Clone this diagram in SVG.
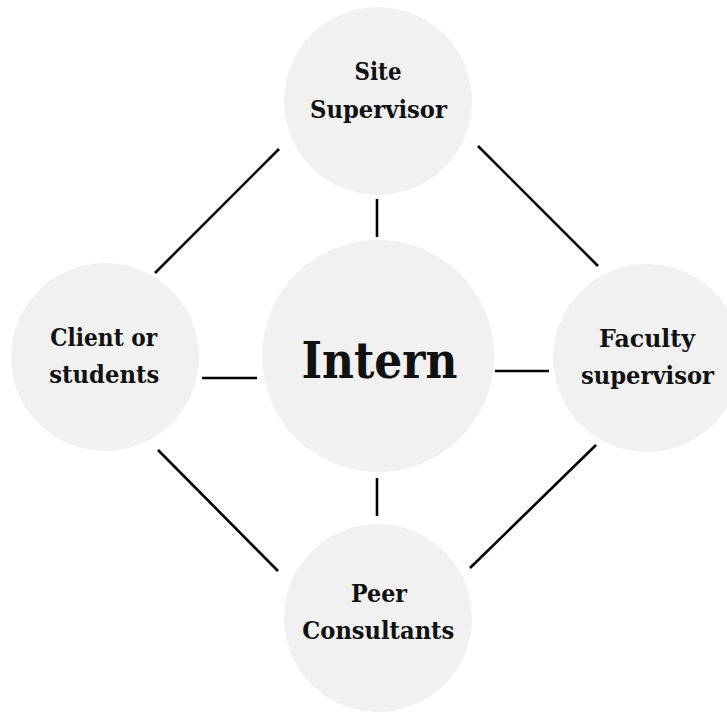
<svg xmlns="http://www.w3.org/2000/svg" width="727" height="715" viewBox="0 0 727 715">
<style>
.bg{fill:#ffffff}
.node circle{fill:#f1f1f1}
.node text{font-family:"DejaVu Serif","Liberation Serif",serif;font-weight:bold;font-size:24.5px;fill:#111111;text-anchor:middle}
.node text.big{font-size:50px}
#connectors line{stroke:#000000;stroke-width:2.6;stroke-linecap:butt}
</style>
<rect class="bg" x="0" y="0" width="727" height="715"/>
<g id="connectors">
<line x1="377" y1="199" x2="377" y2="237"/>
<line x1="377" y1="478" x2="377" y2="516"/>
<line x1="202" y1="378" x2="257" y2="378"/>
<line x1="495" y1="371" x2="549" y2="371"/>
<line x1="155" y1="273" x2="279" y2="149"/>
<line x1="478" y1="146" x2="598" y2="266"/>
<line x1="158" y1="450" x2="278" y2="571"/>
<line x1="470" y1="568" x2="596" y2="445"/>
</g>
<g id="node-site" class="node">
<circle cx="378" cy="101" r="94"/>
<text x="378" y="80" textLength="47" lengthAdjust="spacingAndGlyphs">Site</text>
<text x="378.5" y="118" textLength="137" lengthAdjust="spacingAndGlyphs">Supervisor</text>
</g>
<g id="node-client" class="node">
<circle cx="105" cy="357" r="94"/>
<text x="103.7" y="345.5" textLength="107" lengthAdjust="spacingAndGlyphs">Client or</text>
<text x="104.3" y="382.5" textLength="110" lengthAdjust="spacingAndGlyphs">students</text>
</g>
<g id="node-intern" class="node">
<circle cx="378" cy="356" r="116"/>
<text class="big" x="379.5" y="378" textLength="156" lengthAdjust="spacingAndGlyphs">Intern</text>
</g>
<g id="node-faculty" class="node">
<circle cx="647" cy="358" r="94"/>
<text x="647" y="346.5" textLength="96" lengthAdjust="spacingAndGlyphs">Faculty</text>
<text x="647.5" y="384" textLength="133" lengthAdjust="spacingAndGlyphs">supervisor</text>
</g>
<g id="node-peer" class="node">
<circle cx="378" cy="618" r="94"/>
<text x="379" y="601.5" textLength="56" lengthAdjust="spacingAndGlyphs">Peer</text>
<text x="378.3" y="639" textLength="152" lengthAdjust="spacingAndGlyphs">Consultants</text>
</g>
</svg>
